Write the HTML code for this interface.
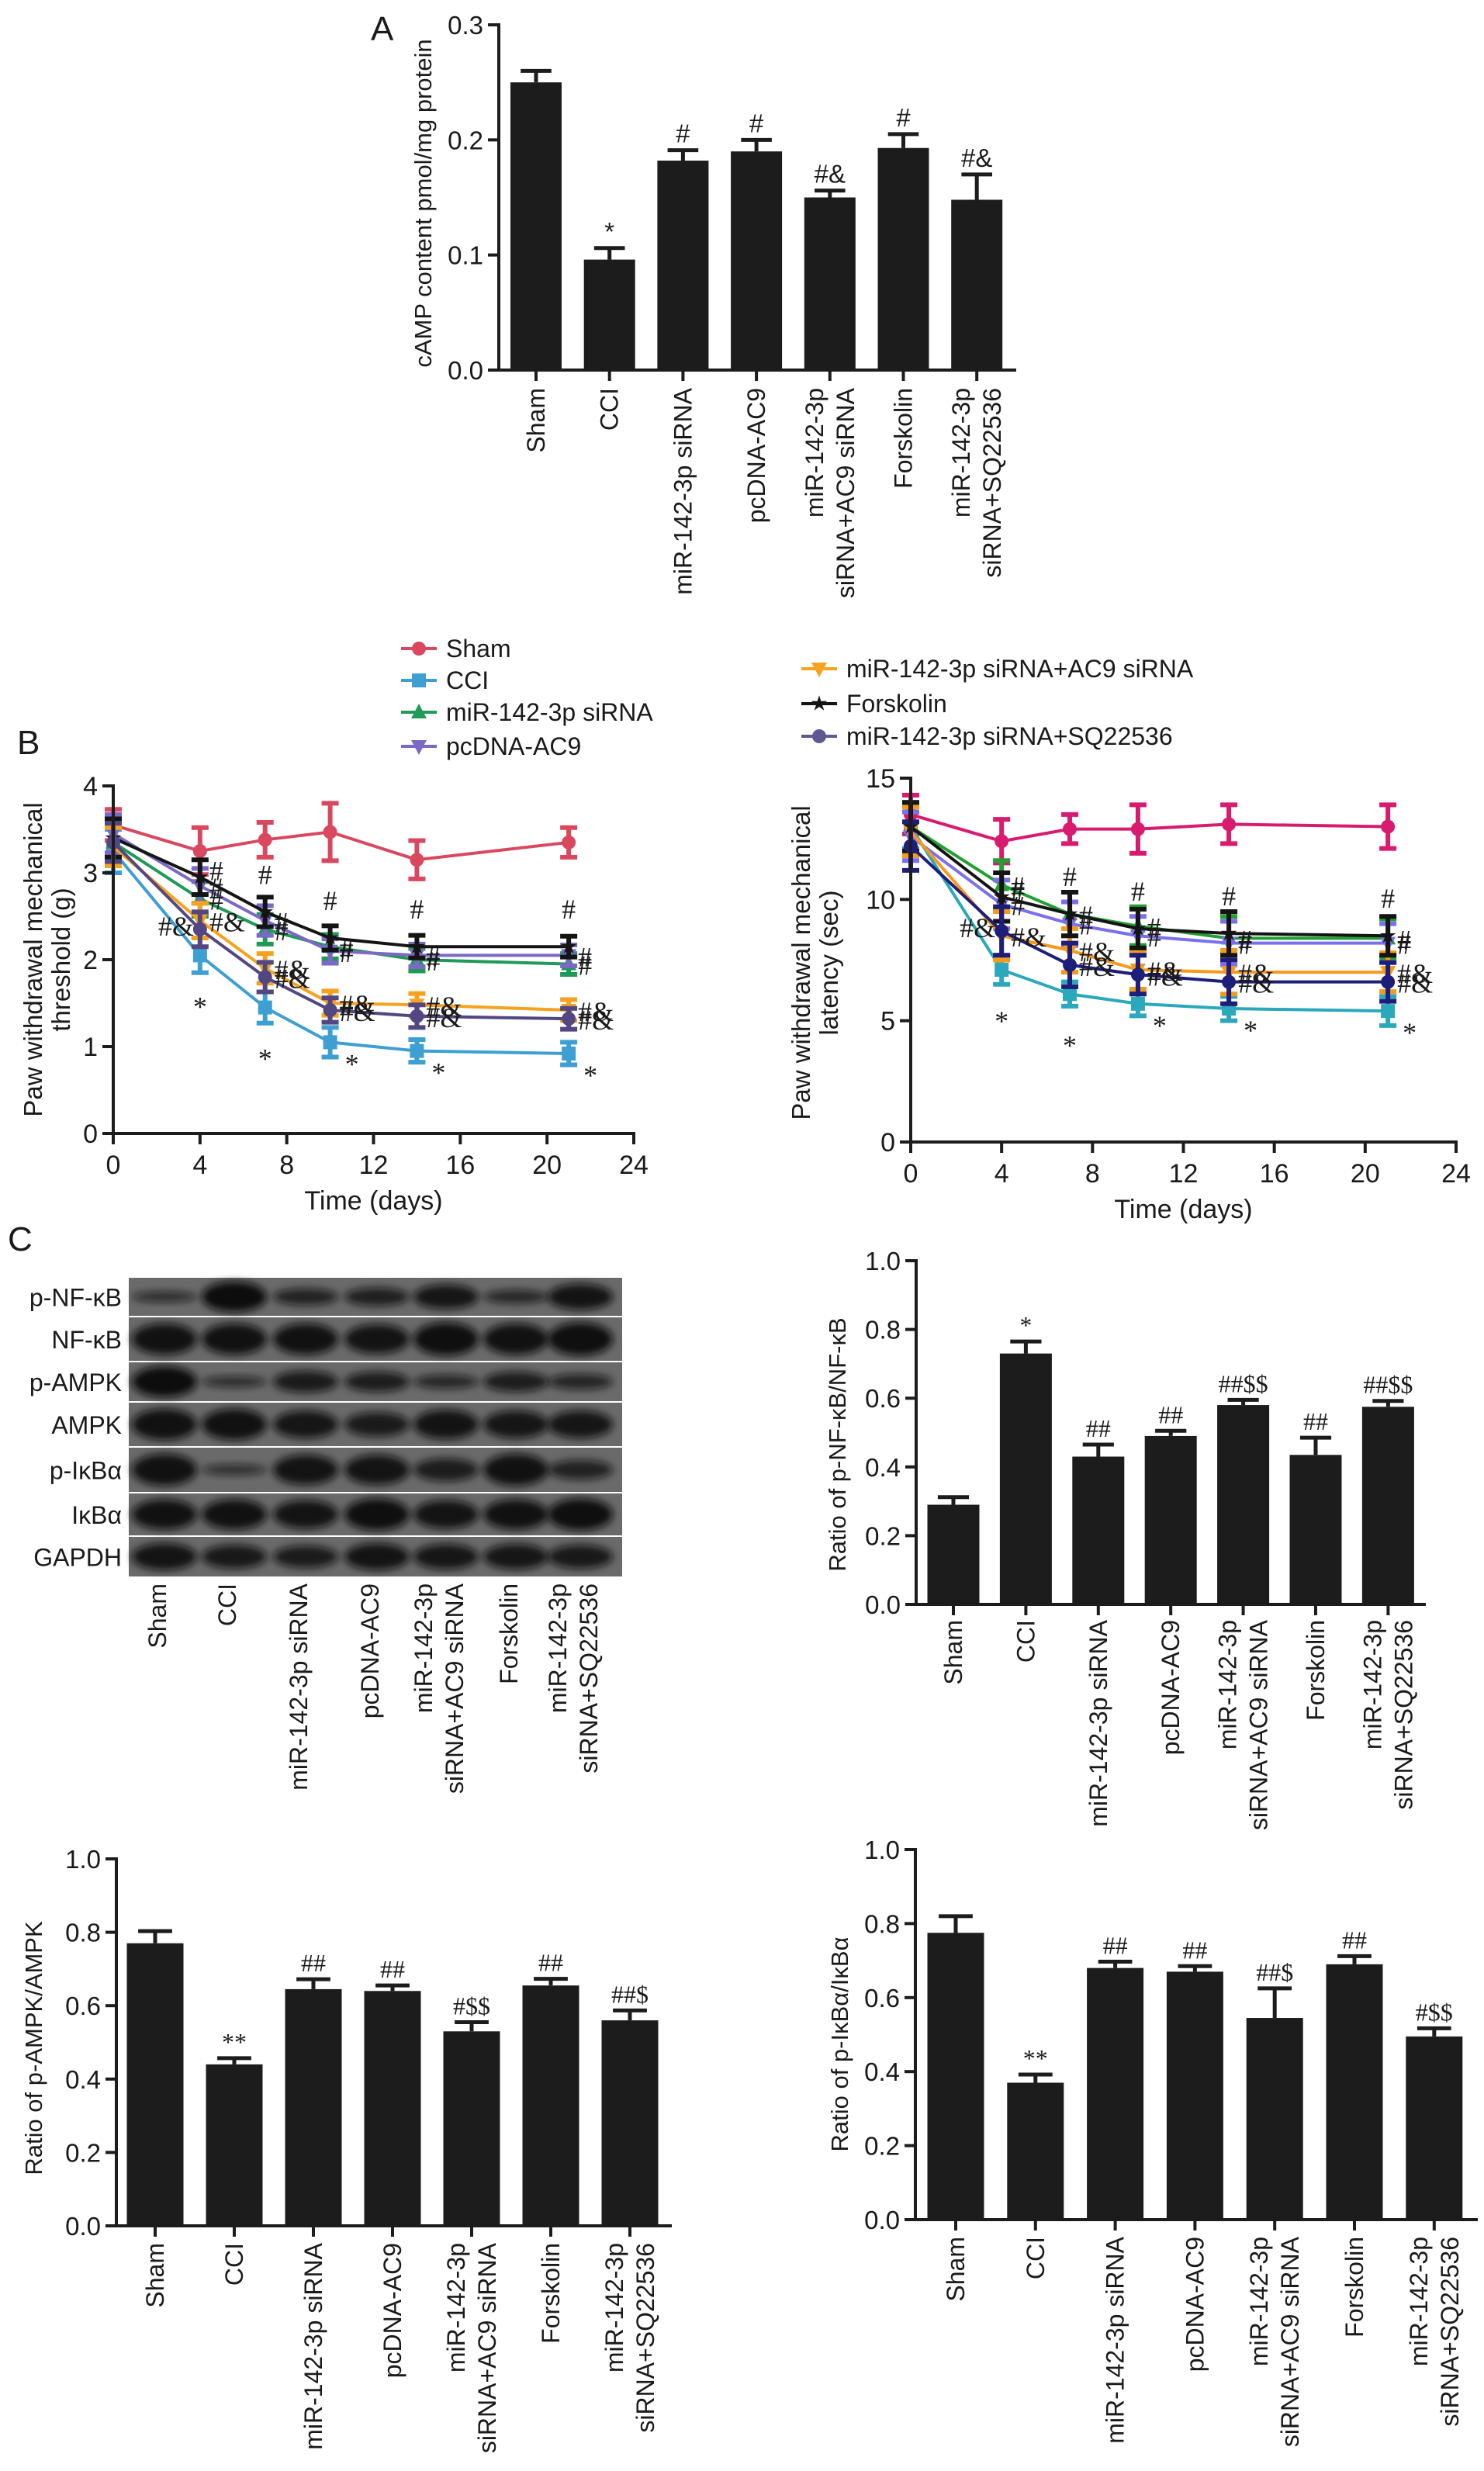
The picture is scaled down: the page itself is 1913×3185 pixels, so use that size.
<!DOCTYPE html>
<html><head><meta charset="utf-8">
<style>
html,body{margin:0;padding:0;background:#fff;}
svg{display:block;}
text{font-family:"Liberation Sans",Arial,sans-serif;fill:#1a1a1a;}
.ser{font-family:"Liberation Serif","Times New Roman",serif;}
</style></head>
<body>
<svg id="fig" width="1913" height="3185" viewBox="0 0 1913 3185" xmlns="http://www.w3.org/2000/svg">
<defs>
<filter id="blur" x="-20%" y="-50%" width="140%" height="200%"><feGaussianBlur stdDeviation="5"/></filter>
</defs>
<text x="478" y="52" font-size="44">A</text>
<text x="22" y="972" font-size="44">B</text>
<text x="10" y="1612" font-size="44">C</text>
</svg>
<script>
// ---------- data ----------
const categories = ["Sham","CCI","miR-142-3p siRNA","pcDNA-AC9","miR-142-3p siRNA+AC9 siRNA","Forskolin","miR-142-3p siRNA+SQ22536"];
const catLines = [["Sham"],["CCI"],["miR-142-3p siRNA"],["pcDNA-AC9"],["miR-142-3p","siRNA+AC9 siRNA"],["Forskolin"],["miR-142-3p","siRNA+SQ22536"]];

const campValues = [0.250,0.096,0.182,0.190,0.150,0.193,0.148];
const campErrors = [0.010,0.010,0.009,0.010,0.006,0.012,0.022];
const campAnnots = ["","*","#","#","#&","#","#&"];
const campTicks = ["0.0","0.1","0.2","0.3"];

const nfkbValues = [0.29,0.73,0.43,0.49,0.58,0.435,0.575];
const nfkbErrors = [0.022,0.035,0.035,0.015,0.015,0.05,0.017];
const nfkbAnnots = ["","*","##","##","##$$","##","##$$"];

const ampkValues = [0.77,0.44,0.645,0.64,0.53,0.655,0.56];
const ampkErrors = [0.033,0.017,0.027,0.015,0.025,0.018,0.027];
const ampkAnnots = ["","**","##","##","#$$","##","##$"];

const ikbValues = [0.775,0.37,0.68,0.67,0.545,0.69,0.495];
const ikbErrors = [0.045,0.022,0.017,0.015,0.08,0.022,0.022];
const ikbAnnots = ["","**","##","##","##$","##","#$$"];
const ratioTicks = ["0.0","0.2","0.4","0.6","0.8","1.0"];

const days = [0,4,7,10,14,21];
const dayTicks = ["0","4","8","12","16","20","24"];
const seriesNames = ["Sham","CCI","miR-142-3p siRNA","pcDNA-AC9","miR-142-3p siRNA+AC9 siRNA","Forskolin","miR-142-3p siRNA+SQ22536"];

const thrSham = [3.55,3.25,3.38,3.47,3.15,3.35];
const thrCCI = [3.25,2.05,1.45,1.05,0.95,0.92];
const thrMiR = [3.35,2.70,2.35,2.15,2.00,1.95];
const thrPc = [3.45,2.85,2.45,2.10,2.05,2.05];
const thrAC9 = [3.30,2.45,1.90,1.50,1.48,1.42];
const thrFor = [3.40,2.95,2.55,2.25,2.15,2.15];
const thrSQ = [3.35,2.35,1.80,1.42,1.35,1.32];
const thrErrSham = [0.18,0.27,0.20,0.33,0.22,0.17];
const thrErrCCI = [0.25,0.20,0.18,0.17,0.13,0.13];
const thrErrOther = [0.22,0.20,0.17,0.14,0.13,0.12];
const thrTicks = ["0","1","2","3","4"];

const latSham = [13.5,12.4,12.9,12.9,13.1,13.0];
const latCCI = [13.0,7.1,6.1,5.7,5.5,5.4];
const latMiR = [13.0,10.6,9.4,8.9,8.4,8.4];
const latPc = [12.6,9.8,9.0,8.5,8.2,8.2];
const latAC9 = [12.8,8.5,7.9,7.1,7.0,7.0];
const latFor = [13.0,10.1,9.4,8.8,8.6,8.5];
const latSQ = [12.2,8.7,7.3,6.9,6.6,6.6];
const latErrSham = [0.8,0.9,0.6,1.0,0.8,0.9];
const latErrCCI = [0.9,0.6,0.5,0.5,0.5,0.6];
const latErrOther = [1.0,1.0,0.9,0.8,0.9,0.8];
const latTicks = ["0","5","10","15"];

const blotRows = ["p-NF-κB","NF-κB","p-AMPK","AMPK","p-IκBα","IκBα","GAPDH"];
const bandPNFKB = [0.35,1.0,0.55,0.6,0.8,0.45,0.85];
const bandNFKB = [0.9,0.9,0.9,0.85,0.95,0.9,0.95];
const bandPAMPK = [1.0,0.35,0.7,0.65,0.45,0.65,0.5];
const bandAMPK = [0.9,0.9,0.8,0.7,0.85,0.8,0.8];
const bandPIKB = [0.9,0.3,0.85,0.85,0.65,0.9,0.55];
const bandIKB = [0.9,0.9,0.85,0.95,0.85,0.9,0.95];
const bandGAPDH = [0.85,0.75,0.7,0.85,0.8,0.8,0.75];

// ---------- helpers ----------
const NS = "http://www.w3.org/2000/svg";
const svg = document.getElementById('fig');
function mk(tag, attrs, parent){
  const el = document.createElementNS(NS, tag);
  for (const k in attrs) el.setAttribute(k, attrs[k]);
  (parent||svg).appendChild(el);
  return el;
}
function txt(str, attrs, parent){
  const el = mk('text', attrs, parent);
  el.textContent = str;
  return el;
}

// ---------- bar chart ----------
function barChart(c, values, errors, annots, ticks){
  const g = mk('g', {});
  
  
  const vmax = parseFloat(ticks[ticks.length-1]);
  const ys = v => c.y0 - (v / vmax) * (c.y0 - c.y1);
  const xs = i => c.c0 + i * c.dx;
  values.forEach((v, i) => {
    const x = xs(i);
    const b = mk('rect', {x: x - c.bw/2, y: ys(v), width: c.bw, height: c.y0 - ys(v), fill: '#1c1c1c'}, g);
    
    
    const e = mk('path', {d: `M${x},${ys(v)}V${ys(v+errors[i])}M${x-c.bw*0.3},${ys(v+errors[i])}H${x+c.bw*0.3}`, stroke:'#1c1c1c', 'stroke-width':5, fill:'none'}, g);
    
    
    if (annots[i]) {
      const a = txt(annots[i], {x: x, y: ys(v+errors[i]) - 10, 'font-size': c.af || 30, 'text-anchor':'middle', class: c.serif ? 'ser' : ''}, g);
      
      
    }
    const t = mk('line', {x1:x, x2:x, y1:c.y0, y2:c.y0+14, stroke:'#1c1c1c','stroke-width':4}, g);
    
    
    const lines = catLines[i];
    lines.forEach((ln, j) => {
      const bx = lines.length === 1 ? x + 11 : x - 9 + j * 40;
      const l = txt(ln, {transform:`translate(${bx},${c.labTop}) rotate(-90)`, 'text-anchor':'end', 'font-size':32}, g);
      
      
    });
  });
  const ya = mk('line', {x1:c.ax, x2:c.ax, y1:c.y1-2, y2:c.y0+2, stroke:'#1c1c1c','stroke-width':4}, g);
  
  
  const xa = mk('line', {x1:c.ax-14, x2:c.xend, y1:c.y0, y2:c.y0, stroke:'#1c1c1c','stroke-width':4}, g);
  
  
  ticks.forEach(tk => {
    const y = ys(parseFloat(tk));
    const t = mk('line', {x1:c.ax-14, x2:c.ax, y1:y, y2:y, stroke:'#1c1c1c','stroke-width':4}, g);
    
    
    const l = txt(tk, {x:c.ax-20, y:y+12, 'text-anchor':'end', 'font-size':33}, g);
    
    
  });
  const tt = txt(c.title, {transform:`translate(${c.tx},${c.ty}) rotate(-90)`, 'text-anchor':'middle', 'font-size':31}, g);
  
  
}

barChart({name:'camp-bar-chart', ax:643, y0:477, y1:32, c0:691, dx:94.7, bw:66, xend:1310, labTop:500, title:'cAMP content pmol/mg protein', tx:556, ty:262, af:33},
  campValues, campErrors, campAnnots, campTicks);
barChart({name:'nfkb-ratio-chart', ax:1181, y0:2068, y1:1625, c0:1229, dx:93.4, bw:67, xend:1838, labTop:2088, title:'Ratio of p-NF-κB/NF-κB', tx:1090, ty:1862, af:32, serif:true},
  nfkbValues, nfkbErrors, nfkbAnnots, ratioTicks);
barChart({name:'ampk-ratio-chart', ax:150, y0:2869, y1:2396, c0:200, dx:102, bw:73, xend:866, labTop:2891, title:'Ratio of p-AMPK/AMPK', tx:54, ty:2640, af:32, serif:true},
  ampkValues, ampkErrors, ampkAnnots, ratioTicks);
barChart({name:'ikba-ratio-chart', ax:1180, y0:2861, y1:2384, c0:1232, dx:102.8, bw:73, xend:1905, labTop:2883, title:'Ratio of p-IκBα/IκBα', tx:1093, ty:2635, af:32, serif:true},
  ikbValues, ikbErrors, ikbAnnots, ratioTicks);

// ---------- line charts ----------
function marker(g, shape, x, y, col){
  const r = 9;
  let el;
  if (shape === 'circle') el = mk('circle', {cx:x, cy:y, r:r, fill:col}, g);
  else if (shape === 'square') el = mk('rect', {x:x-r, y:y-r, width:2*r, height:2*r, fill:col}, g);
  else if (shape === 'up') el = mk('polygon', {points:`${x},${y-r-2} ${x-r-1},${y+r-1} ${x+r+1},${y+r-1}`, fill:col}, g);
  else if (shape === 'down') el = mk('polygon', {points:`${x},${y+r+2} ${x-r-1},${y-r+1} ${x+r+1},${y-r+1}`, fill:col}, g);
  else {
    let p = '';
    for (let k = 0; k < 10; k++) { const rr = k%2 ? r*0.45 : r*1.2; const a = -Math.PI/2 + k*Math.PI/5; p += `${x+rr*Math.cos(a)},${y+rr*Math.sin(a)} `; }
    el = mk('polygon', {points:p, fill:col}, g);
  }
  
  
}
const shapes = ['circle','square','up','down','down','star','circle'];

function lineChart(c, series, errs, colors, ticks, annots){
  const g = mk('g', {});
  
  
  const vmax = parseFloat(ticks[ticks.length-1]);
  const ys = v => c.y0 - (v / vmax) * (c.y0 - c.y1);
  const xmax = parseFloat(dayTicks[dayTicks.length-1]);
  const xs = d => c.ax + (d / xmax) * (c.xend - c.ax);
  series.forEach((s, si) => {
    const sg = mk('g', {}, g);
    
    
    let d = '';
    s.forEach((v, i) => { d += (i ? 'L' : 'M') + xs(days[i]) + ',' + ys(v); });
    const ln = mk('path', {d:d, fill:'none', stroke:colors[si], 'stroke-width':4}, sg);
    
    
    s.forEach((v, i) => {
      const x = xs(days[i]);
      const e = errs[si][i];
      const eb = mk('path', {d:`M${x},${ys(v-e)}V${ys(v+e)}M${x-11},${ys(v-e)}H${x+11}M${x-11},${ys(v+e)}H${x+11}`, stroke:colors[si], 'stroke-width':6, fill:'none'}, sg);
      
      
      marker(sg, shapes[si], x, ys(v), colors[si]);
    });
  });
  series.forEach((s, si) => {
    const a = annots[si];
    if (!a) return;
    s.forEach((v, i) => {
      if (i === 0) return;
      const x = xs(days[i]);
      const y = ys(v);
      let ax = x + 12, ay = y + 14, anchor = 'start';
      if (a.mode === 'below') { ax = x; ay = y + 78; anchor = 'middle'; if (i > 2) { ax = x + 28; ay = y + 40; } }
      if (a.mode === 'above') { ax = x; ay = y - 36; anchor = 'middle'; if (i === 1) { ax = x + 12; ay = y + 4; anchor = 'start'; } }
      if (a.mode === 'amp' && i === 1) { ax = x - 8; ay = y + 8; anchor = 'end'; }
      const t = txt(a.text, {x:ax, y:ay, 'text-anchor':anchor, 'font-size':36, class:'ser'}, g);
      
      
    });
  });
  const ya = mk('line', {x1:c.ax, x2:c.ax, y1:c.y1-2, y2:c.y0+2, stroke:'#1c1c1c','stroke-width':4}, g);
  
  
  const xa = mk('line', {x1:c.ax-14, x2:c.xend+2, y1:c.y0, y2:c.y0, stroke:'#1c1c1c','stroke-width':4}, g);
  
  
  ticks.forEach(tk => {
    const y = ys(parseFloat(tk));
    const t = mk('line', {x1:c.ax-14, x2:c.ax, y1:y, y2:y, stroke:'#1c1c1c','stroke-width':4}, g);
    
    
    const l = txt(tk, {x:c.ax-20, y:y+12, 'text-anchor':'end', 'font-size':34}, g);
    
    
  });
  dayTicks.forEach(tk => {
    const x = xs(parseFloat(tk));
    const t = mk('line', {x1:x, x2:x, y1:c.y0, y2:c.y0+14, stroke:'#1c1c1c','stroke-width':4}, g);
    
    
    const l = txt(tk, {x:x, y:c.y0+52, 'text-anchor':'middle', 'font-size':34}, g);
    
    
  });
  const xt = txt('Time (days)', {x:(c.ax+c.xend)/2, y:c.y0+98, 'text-anchor':'middle', 'font-size':34}, g);
  
  
  c.title.forEach((ln, j) => {
    const t = txt(ln, {transform:`translate(${c.tx + j*36},${c.ty}) rotate(-90)`, 'text-anchor':'middle', 'font-size':33}, g);
    
    
  });
}

const leftColors = ['#d9485f','#3d9fd2','#1f9a58','#7c68c6','#f5a21f','#141414','#524782'];
const rightColors = ['#d81b6e','#2ba8bb','#22a033','#7a70ee','#f59a1a','#141414','#1d1d7a'];
const annotSpec = [null,{text:'*',mode:'below'},{text:'#',mode:'right'},{text:'#',mode:'right'},{text:'#&',mode:'right'},{text:'#',mode:'above'},{text:'#&',mode:'amp'}];

lineChart({name:'threshold-line-chart', ax:146, y0:1461, y1:1013, xend:817, title:['Paw withdrawal mechanical','threshold (g)'], tx:54, ty:1237},
  [thrSham,thrCCI,thrMiR,thrPc,thrAC9,thrFor,thrSQ],
  [thrErrSham,thrErrCCI,thrErrOther,thrErrOther,thrErrOther,thrErrOther,thrErrOther],
  leftColors, thrTicks, annotSpec);
lineChart({name:'latency-line-chart', ax:1174, y0:1472, y1:1003, xend:1877, title:['Paw withdrawal mechanical','latency (sec)'], tx:1044, ty:1241},
  [latSham,latCCI,latMiR,latPc,latAC9,latFor,latSQ],
  [latErrSham,latErrCCI,latErrOther,latErrOther,latErrOther,latErrOther,latErrOther],
  rightColors, latTicks, annotSpec);

const legL = [{i:0,y:836},{i:1,y:877},{i:2,y:918},{i:3,y:962}];
const legR = [{i:4,y:862},{i:5,y:907},{i:6,y:949}];
function legend(list, x0, colors){
  const g = mk('g', {});
  
  
  list.forEach(e => {
    const eg = mk('g', {}, g);
    
    
    const l = mk('line', {x1:x0, x2:x0+46, y1:e.y, y2:e.y, stroke:colors[e.i], 'stroke-width':4}, eg);
    
    
    marker(eg, shapes[e.i], x0+23, e.y, colors[e.i]);
    const t = txt(seriesNames[e.i], {x:x0+58, y:e.y+11, 'font-size':32}, eg);
    
    
  });
}
legend(legL, 517, leftColors);
legend(legR, 1033, ['#d9485f','#3d9fd2','#1f9a58','#7c68c6','#f5a21f','#141414','#5d5a92']);

// ---------- western blot ----------
const bands = [bandPNFKB,bandNFKB,bandPAMPK,bandAMPK,bandPIKB,bandIKB,bandGAPDH];
const rowTops = [1647,1698,1756,1808,1866,1925,1981];
const rowBottoms = [1696,1754,1806,1864,1923,1979,2032];
const lanes = [212,302,394,486,575,665,748];
const blot = mk('g', {});


bands.forEach((row, r) => {
  const top = rowTops[r], bot = rowBottoms[r], cy = (top+bot)/2;
  const bg = mk('rect', {x:166, y:top, width:636, height:bot-top, fill:'#6a6a6a'}, blot);
  
  
  const lab = txt(blotRows[r], {x:157, y:cy+12, 'text-anchor':'end', 'font-size':32}, blot);
  
  
  row.forEach((v, i) => {
    const b = mk('ellipse', {cx:lanes[i], cy:cy, rx:42, ry:Math.max(5, v*(bot-top)*0.4), fill:'#0e0e0e', opacity:0.5+0.5*v, filter:'url(#blur)'}, blot);
    
    
  });
});
lanes.forEach((x, i) => {
  const lines = catLines[i];
  lines.forEach((ln, j) => {
    const bx = lines.length === 1 ? x + 2 : x - 18 + j * 40;
    const l = txt(ln, {transform:`translate(${bx},2041) rotate(-90)`, 'text-anchor':'end', 'font-size':32}, blot);
    
    
  });
});
</script>
</body></html>
